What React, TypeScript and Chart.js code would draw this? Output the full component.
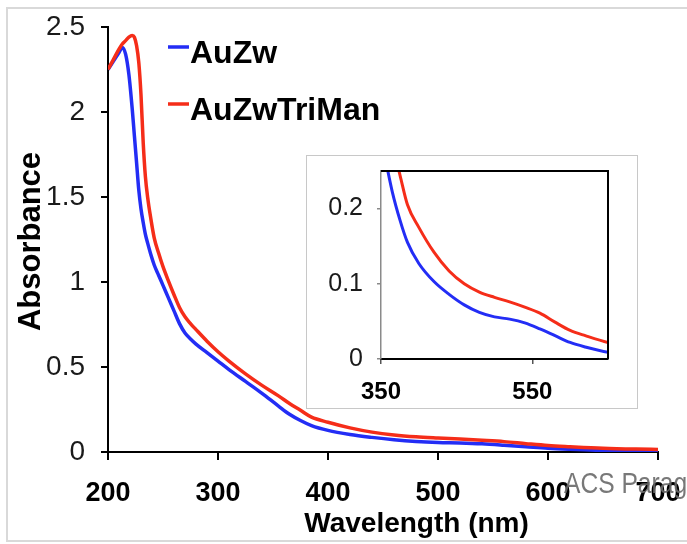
import { useEffect, useRef } from 'react';
import { Chart, registerables } from 'chart.js';

Chart.register(...registerables);

// Absorbance spectra (wavelength in nm)
const WAVELENGTH = [
  200, 205, 210, 213, 216, 219, 222, 224, 226, 228, 230, 232, 234, 236, 239, 242, 246, 250, 255, 260,
  265, 270, 275, 280, 290, 300, 310, 325, 340, 355, 365, 375, 385, 400, 420, 440, 460, 480, 500, 520,
  540, 560, 580, 600, 620, 650, 680, 700,
];
const AUZW = [
  2.25, 2.3, 2.35, 2.38, 2.34, 2.22, 2.02, 1.86, 1.7, 1.54, 1.43, 1.35, 1.28, 1.23, 1.16, 1.1, 1.04, 0.98, 0.905, 0.83,
  0.755, 0.7, 0.665, 0.635, 0.585, 0.535, 0.485, 0.415, 0.345, 0.27, 0.222, 0.185, 0.155, 0.127, 0.103, 0.086, 0.072, 0.062, 0.056, 0.053,
  0.048, 0.04, 0.031, 0.022, 0.016, 0.009, 0.006, 0.005,
];
const AUZW_TRIMAN = [
  2.25, 2.31, 2.37, 2.4, 2.42, 2.44, 2.45, 2.44, 2.39, 2.29, 2.1, 1.82, 1.62, 1.5, 1.37, 1.26, 1.17, 1.09, 1.005, 0.925,
  0.85, 0.795, 0.755, 0.72, 0.652, 0.59, 0.535, 0.46, 0.392, 0.33, 0.285, 0.245, 0.205, 0.175, 0.142, 0.117, 0.1, 0.089, 0.082, 0.076,
  0.069, 0.061, 0.049, 0.038, 0.031, 0.022, 0.017, 0.015,
];
const SERIES_LABELS = ['AuZw', 'AuZwTriMan'];

const X_TICKS = [200, 300, 400, 500, 600, 700];
const Y_TICKS = [0, 0.5, 1, 1.5, 2, 2.5];
const INSET_X_TICKS = [350, 550];
const INSET_Y_TICKS = [0, 0.1, 0.2];

const X_TITLE = 'Wavelength (nm)';
const Y_TITLE = 'Absorbance';
const WATERMARK = 'ACS Paragon Plus Environment';

const FONT = '"Liberation Sans", Arial, Helvetica, sans-serif';
const BLUE = 'rgb(35, 45, 245)';
const RED = 'rgb(245, 45, 25)';

const points = (ys: number[]) => WAVELENGTH.map((x, i) => ({ x, y: ys[i] }));

function makeDatasets(lineWidth: number) {
  return [
    {
      label: SERIES_LABELS[0],
      data: points(AUZW),
      borderColor: BLUE,
      borderWidth: lineWidth,
      pointRadius: 0,
      cubicInterpolationMode: 'monotone' as const,
      order: 1,
    },
    {
      label: SERIES_LABELS[1],
      data: points(AUZW_TRIMAN),
      borderColor: RED,
      borderWidth: lineWidth,
      pointRadius: 0,
      cubicInterpolationMode: 'monotone' as const,
      order: 0,
    },
  ];
}

const fixedTicks = (values: number[]) => (axis: any) => {
  axis.ticks = values.map((value) => ({ value }));
};

// Fixed axis thickness; label overhang is left to the layout padding
const fitAxis = (size: number) => (s: any) => {
  if (s.isHorizontal()) s.height = size;
  else s.width = size;
  s.paddingLeft = 0;
  s.paddingRight = 0;
  s.paddingTop = 0;
  s.paddingBottom = 0;
};

// Axis titles, in-plot legend and the page stamp
const mainDecor = {
  id: 'mainDecor',
  afterDraw(chart: any) {
    const { ctx, chartArea } = chart;
    ctx.save();
    ctx.fillStyle = '#000';

    ctx.font = `bold 28px ${FONT}`;
    ctx.textAlign = 'center';
    ctx.textBaseline = 'alphabetic';
    ctx.fillText(X_TITLE, chartArea.left + chartArea.width * 0.561, 532);

    ctx.save();
    ctx.translate(31, (chartArea.top + chartArea.bottom) / 2 + 2);
    ctx.rotate(-Math.PI / 2);
    ctx.font = `bold 31px ${FONT}`;
    ctx.textBaseline = 'middle';
    ctx.fillText(Y_TITLE, 0, 0);
    ctx.restore();

    chart.data.datasets.forEach((ds: any, i: number) => {
      const y = 47 + i * 57;
      ctx.strokeStyle = ds.borderColor;
      ctx.lineWidth = 3.5;
      ctx.beginPath();
      ctx.moveTo(168, y);
      ctx.lineTo(189, y);
      ctx.stroke();
      ctx.fillStyle = '#000';
      ctx.font = `bold 32px ${FONT}`;
      ctx.textAlign = 'left';
      ctx.textBaseline = 'alphabetic';
      ctx.fillText(ds.label, 190, y + 16);
    });

    // narrow-set stamp text
    ctx.save();
    ctx.translate(564, 493);
    ctx.scale(0.82, 1);
    ctx.fillStyle = 'rgba(105, 105, 105, 0.9)';
    ctx.font = `30px ${FONT}`;
    ctx.textAlign = 'left';
    ctx.fillText(WATERMARK, 0, 0);
    ctx.restore();

    ctx.restore();
  },
};

// Closed frame on the top and right of the inset plot
const insetFrame = {
  id: 'insetFrame',
  afterDraw(chart: any) {
    const { ctx, chartArea: a } = chart;
    ctx.save();
    ctx.strokeStyle = '#000';
    ctx.lineWidth = 2;
    ctx.beginPath();
    ctx.moveTo(a.left, a.top);
    ctx.lineTo(a.right, a.top);
    ctx.lineTo(a.right, a.bottom);
    ctx.stroke();
    ctx.restore();
  },
};

export default function App() {
  const mainRef = useRef<HTMLCanvasElement>(null);
  const insetRef = useRef<HTMLCanvasElement>(null);

  useEffect(() => {
    const main = new Chart(mainRef.current!, {
      type: 'line',
      data: { datasets: makeDatasets(3.5) as any },
      options: {
        animation: false,
        responsive: false,
        devicePixelRatio: 1,
        layout: { padding: { left: 0, right: 29, top: 27, bottom: 0 } },
        plugins: { legend: { display: false }, tooltip: { enabled: false } },
        scales: {
          x: {
            type: 'linear',
            min: 200,
            max: 700,
            afterBuildTicks: fixedTicks(X_TICKS),
            afterFit: fitAxis(92),
            border: { display: true, color: '#000', width: 2 },
            grid: { drawOnChartArea: false, drawTicks: true, tickLength: 8, color: '#000', lineWidth: 2 },
            ticks: { color: '#000', padding: 17, font: { family: FONT, size: 27, weight: 'bold' }, maxRotation: 0 },
          },
          y: {
            type: 'linear',
            min: 0,
            max: 2.5,
            afterBuildTicks: fixedTicks(Y_TICKS),
            afterFit: fitAxis(108),
            border: { display: true, color: '#000', width: 2 },
            grid: { drawOnChartArea: false, drawTicks: true, tickLength: 7, color: '#000', lineWidth: 2 },
            ticks: { color: '#1a1a1a', padding: 16, font: { family: FONT, size: 28 }, callback: (v: any) => String(v) },
          },
        },
      },
      plugins: [mainDecor],
    });

    const inset = new Chart(insetRef.current!, {
      type: 'line',
      data: { datasets: makeDatasets(3) as any },
      options: {
        animation: false,
        responsive: false,
        devicePixelRatio: 1,
        layout: { padding: { left: 0, right: 29, top: 15, bottom: 0 } },
        plugins: { legend: { display: false }, tooltip: { enabled: false } },
        scales: {
          x: {
            type: 'linear',
            min: 350,
            max: 650,
            afterBuildTicks: fixedTicks(INSET_X_TICKS),
            afterFit: fitAxis(49),
            border: { display: true, color: '#000', width: 2 },
            grid: { drawOnChartArea: false, drawTicks: true, tickLength: 5, color: '#555', lineWidth: 1.5 },
            ticks: { color: '#000', padding: 14, font: { family: FONT, size: 24, weight: 'bold' }, maxRotation: 0 },
          },
          y: {
            type: 'linear',
            min: 0,
            max: 0.25,
            afterBuildTicks: fixedTicks(INSET_Y_TICKS),
            afterFit: fitAxis(74),
            border: { display: true, color: '#8a8a8a', width: 1.5 },
            grid: { drawOnChartArea: false, drawTicks: true, tickLength: 4, color: '#8a8a8a', lineWidth: 1.5 },
            ticks: { color: '#1a1a1a', padding: 14, font: { family: FONT, size: 25 }, callback: (v: any) => String(v) },
          },
        },
      },
      plugins: [insetFrame],
    });

    return () => {
      main.destroy();
      inset.destroy();
    };
  }, []);

  return (
    <div
      style={{
        position: 'fixed',
        left: 0,
        top: 0,
        width: 687,
        height: 544,
        overflow: 'hidden',
        background: '#fff',
      }}
    >
      <div
        style={{
          position: 'absolute',
          left: 6,
          top: 7,
          width: 720,
          height: 535,
          border: '2px solid #d9d9d9',
          boxSizing: 'border-box',
        }}
      />
      <canvas
        ref={mainRef}
        width={687}
        height={544}
        style={{ position: 'absolute', left: 0, top: 0, width: 687, height: 544 }}
      />
      <div
        style={{
          position: 'absolute',
          left: 306,
          top: 155,
          width: 332,
          height: 254,
          border: '1px solid #c8c8c8',
          boxSizing: 'border-box',
          background: '#fff',
        }}
      >
        <canvas ref={insetRef} width={330} height={252} style={{ display: 'block', width: 330, height: 252 }} />
      </div>
    </div>
  );
}
